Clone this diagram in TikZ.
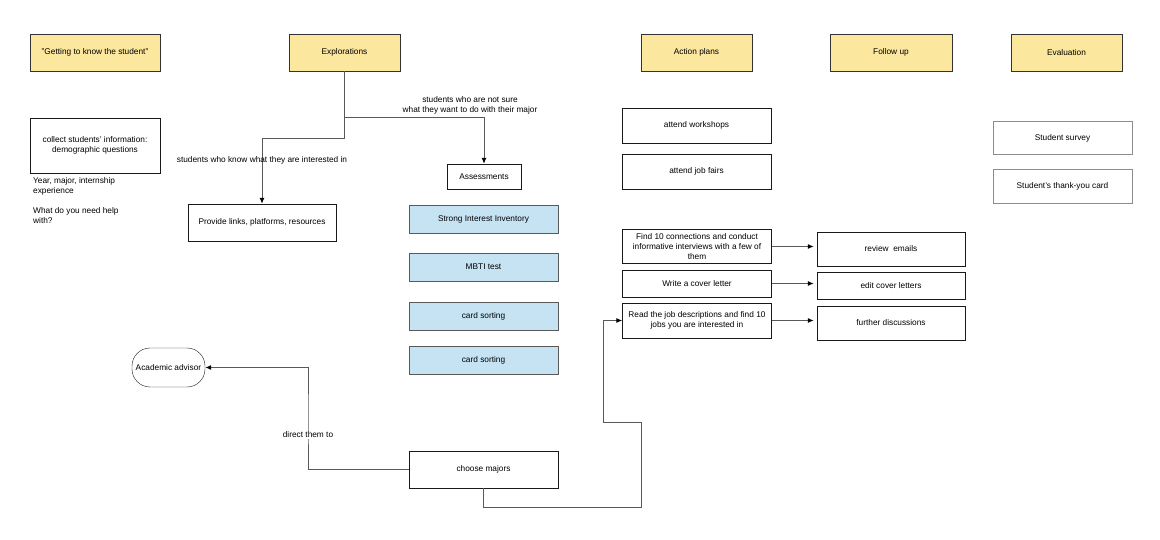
\documentclass[tikz,border=0pt]{standalone}
\usepackage{fontspec}
\setmainfont{Liberation Sans}
\usetikzlibrary{arrows.meta,calc}
\definecolor{phasefill}{HTML}{FCE79F}
\definecolor{testfill}{HTML}{C6E3F4}

\begin{document}
\begin{tikzpicture}[x=1pt,y=-1pt,
    every node/.style={font=\fontsize{8.3}{10}\selectfont, align=center, inner sep=0pt},
    phase/.style={draw=black!80, fill=phasefill, minimum width=111pt, minimum height=37pt},
    task/.style={draw=black!90, fill=white, minimum width=149pt, minimum height=35pt},
    test/.style={draw=black!65, fill=testfill, minimum width=149pt, minimum height=28pt},
    evalbox/.style={draw=black!45, fill=white, minimum width=139pt, minimum height=34pt},
    link/.style={draw=black!65, line width=1pt, -{Latex[length=6pt,width=5pt,color=black]}},
    ]
    \useasboundingbox (0,0) rectangle (1160,540);

    \node[phase, minimum width=130pt] (hGet) at (95,52.5) {"Getting to know the student"};
    \node[phase] (hExp) at (344.5,52.5) {Explorations};
    \node[phase] (hAct) at (696.5,52.5) {Action plans};
    \node[phase, minimum width=122pt] (hFol) at (891,52.5) {Follow up};
    \node[phase] (hEva) at (1066.5,52.5) {Evaluation};

    \node[task, minimum width=130pt, minimum height=55pt] (collect) at (95,145.5) {collect students' information:\\demographic questions};
    \node[anchor=north west, align=left] (notes) at (33,177) {Year, major, internship\\experience\\[10pt]What do you need help\\with?};

    \node[task, minimum width=148pt, minimum height=37pt] (links) at (262,222.5) {Provide links, platforms, resources};
    \node[task, minimum width=74pt, minimum height=25pt] (assess) at (484,176.5) {Assessments};
    \node[test] (sii) at (483.5,219) {Strong Interest Inventory};
    \node[test] (mbti) at (483.5,267) {MBTI test};
    \node[test] (cardA) at (483.5,316) {card sorting};
    \node[test] (cardB) at (483.5,360) {card sorting};
    \node[task, minimum height=37pt] (majors) at (483.5,469.5) {choose majors};
    \node[draw=black!90, minimum width=73pt, minimum height=39pt, rounded corners=18pt] (advisor) at (168.5,367.5) {Academic advisor};

    \node[task] (workshops) at (696.5,125.5) {attend workshops};
    \node[task] (fairs) at (696.5,171.5) {attend job fairs};
    \node[task, minimum height=34pt] (connect) at (697,246.5) {Find 10 connections and conduct\\informative interviews with a few of\\them};
    \node[task, minimum height=27pt] (cover) at (697,283.5) {Write a cover letter};
    \node[task] (jobs) at (697,320.5) {Read the job descriptions and find 10\\jobs you are interested in};

    \node[task, minimum width=148pt, minimum height=34pt] (review) at (891,249) {review\ \ emails};
    \node[task, minimum width=148pt, minimum height=27pt] (edit) at (891,285.5) {edit cover letters};
    \node[task, minimum width=148pt, minimum height=34pt] (discuss) at (891,323) {further discussions};

    \node[evalbox, minimum height=33pt] (survey) at (1062.5,138) {Student survey};
    \node[evalbox] (thanks) at (1062.5,186) {Student's thank-you card};

    \coordinate (split) at (hExp.south |- 0,118);
    \draw[link] (hExp.south) -- ++(0,67) -| (links.north);
    \draw[link] (split) -| (assess.north);
    \node (knowLbl) at (262,160) {students who know what they are interested in};
    \node (unsureLbl) at (470,105) {students who are not sure\\what they want to do with their major};

    \draw[link] (majors.west) -| (308,420) |- (advisor.east);
    \node[fill=white, inner sep=1pt] (directLbl) at (308,435) {direct them to};

    \draw[link] (majors.south) |- (641,507) -- (641,422) -- (603,422) |- (jobs.west);

    \draw[link, shorten >=3pt] (connect.east) -- (connect.east -| review.west);
    \draw[link, shorten >=3pt] (cover.east) -- (cover.east -| edit.west);
    \draw[link, shorten >=3pt] (jobs.east) -- (jobs.east -| discuss.west);

\end{tikzpicture}
\end{document}
